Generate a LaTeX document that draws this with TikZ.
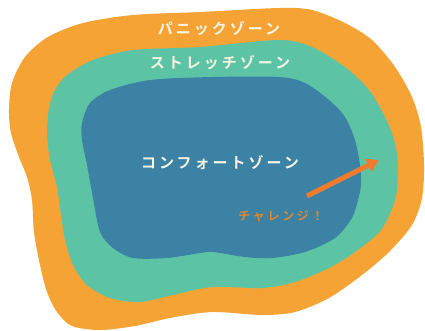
\documentclass[tikz,border=0pt]{standalone}
\usepackage{fontspec}
\usetikzlibrary{arrows.meta}
\newfontfamily\jp{Noto Sans CJK JP}[BoldFont={* Bold}]
\newfontfamily\jpsp{Noto Sans CJK JP}[BoldFont={* Bold},LetterSpace=20]
\newfontfamily\jpch{Noto Sans CJK JP}[BoldFont={* Bold},LetterSpace=22]
\definecolor{panic}{HTML}{F5A334}
\definecolor{stretch}{HTML}{5CC4A5}
\definecolor{comfort}{HTML}{3B82A5}
\definecolor{arrowc}{HTML}{EF7B2E}
\definecolor{chaltxt}{HTML}{E2862E}
\definecolor{labtxt}{HTML}{F8F4E4}
\begin{document}
\begin{tikzpicture}[x=1pt,y=-1pt,
  lab/.style={font=\jpsp\bfseries\fontsize{15}{15}\selectfont, text=labtxt, inner sep=0pt},
  chal/.style={font=\jpch\bfseries\fontsize{12}{12}\selectfont, text=chaltxt, inner sep=0pt},
  bigarrow/.style={draw=arrowc, line width=5pt, -{Triangle[length=12pt,width=14pt]}}]
\useasboundingbox (0,0) rectangle (425,330);
\fill[white] (0,0) rectangle (425,330);
% panic zone
\fill[panic] plot[smooth cycle, tension=0.5] coordinates {
 (83,23) (133,15) (200,12) (279,8) (312,10) (345,23) (372,40) (395,67)
 (412,97) (421,127) (424,165) (422,198) (412,225) (389,252) (362,275)
 (329,298) (295,312) (262,315) (212,312) (170,318) (135,326) (100,330)
 (72,326) (57,312) (47,292) (40,265) (34,232) (32,200) (27,177) (19,157)
 (11,133) (9,110) (12,83) (25,57) (48,37)};
% stretch zone
\fill[stretch] plot[smooth cycle, tension=0.5] coordinates {
 (93,60) (133,50) (200,47) (279,40) (312,47) (345,67) (369,90) (385,117)
 (395,143) (398,170) (395,200) (381,230) (355,252) (329,268) (295,282)
 (262,288) (212,287) (173,295) (140,302) (110,298) (87,285) (73,265)
 (65,240) (61,215) (57,187) (50,160) (47,133) (49,108) (55,90) (67,75)};
% comfort zone
\fill[comfort] plot[smooth cycle, tension=0.5] coordinates {
 (110,90) (150,80) (212,77) (279,77) (305,83) (329,100) (345,117) (355,140)
 (360,165) (361,185) (358,200) (352,218) (335,238) (305,252) (272,258)
 (245,257) (213,252) (200,253) (167,258) (133,258) (113,248) (100,232)
 (93,198) (87,165) (82,140) (82,123) (90,103)};
\node[lab] (panicl) at (219,29) {パニックゾーン};
\node[lab] (stretchl) at (220,63) {ストレッチゾーン};
\node[lab] (comfortl) at (220,163) {コンフォートゾーン};
\node[chal] (chall) at (281,216) {チャレンジ！};
\coordinate (as) at (307,196);
\coordinate (ae) at (379,160);
\draw[bigarrow] (as) -- (ae);
\end{tikzpicture}
\end{document}
